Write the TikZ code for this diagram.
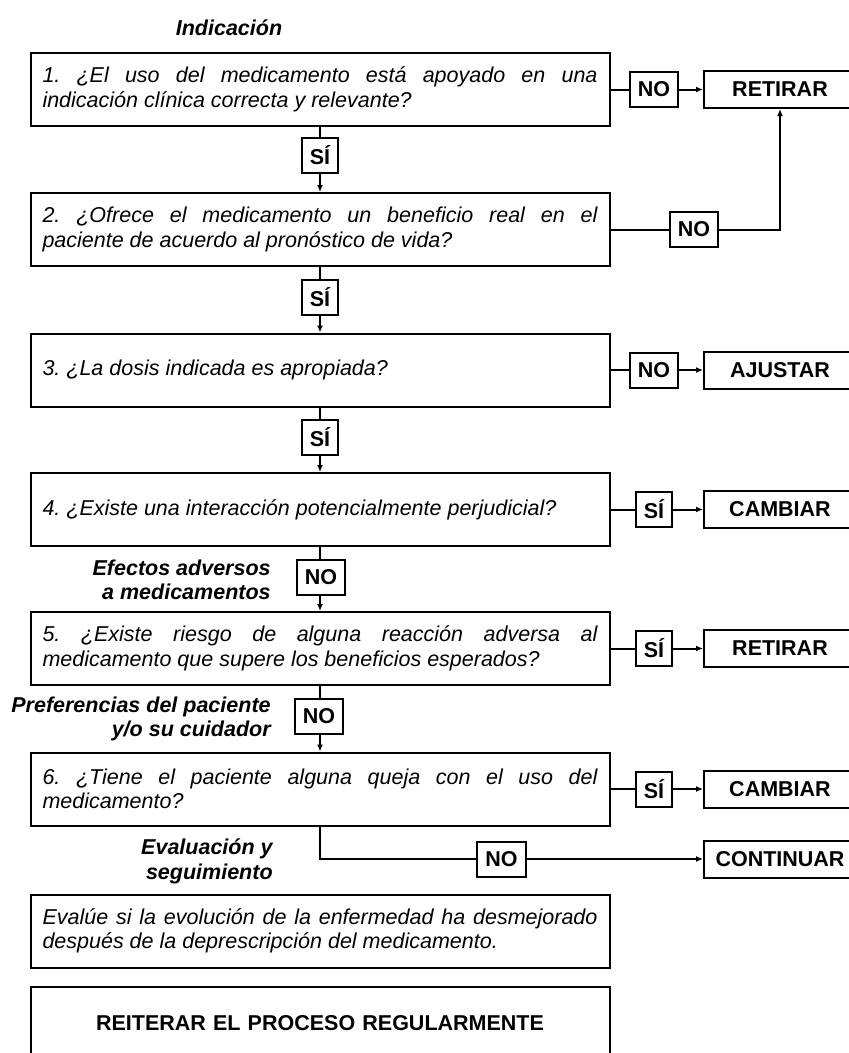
\documentclass[tikz,border=0pt]{standalone}
\usepackage{fontspec}
\setmainfont{Liberation Sans}
\usetikzlibrary{positioning,arrows.meta}
\hyphenpenalty=10000
\exhyphenpenalty=10000
\frenchspacing
\newcommand{\tam}{\fontsize{21.5}{24.5}\selectfont}
\newcommand{\sinencoger}{\spaceskip=\fontdimen2\font plus 3em\relax}

\begin{document}
\begin{tikzpicture}[x=1pt,y=-1pt,line width=2pt,>={Latex[length=7pt,width=6pt]},
    pregunta/.style={draw,text width=555pt,inner xsep=12pt,minimum height=73pt,align=justify,font=\tam\itshape\sinencoger},
    resp/.style={draw,inner xsep=8pt,minimum height=35pt,font=\tam\bfseries},
    accion/.style={draw,minimum width=152pt,minimum height=37pt,font=\tam\bfseries},
    etiqueta/.style={align=right,anchor=east,font=\tam\bfseries\itshape}]
    \useasboundingbox (0,0) rectangle (849,1053);
        \node[font=\tam\bfseries\itshape] (ind) at (229,28) {Indicación};
        \node[pregunta] (A) at (320,89.5) {1. ¿El uso del medicamento está apoyado en una indicación clínica correcta y relevante?};
        \node[pregunta] (B) at (320,229.5) {2. ¿Ofrece el medicamento un beneficio real en el paciente de acuerdo al pronóstico de vida?};
        \node[pregunta] (C) at (320,370) {3. ¿La dosis indicada es apropiada?};
        \node[pregunta] (D) at (320,509.5) {4. ¿Existe una interacción potencialmente perjudicial?};
        \node[pregunta] (E) at (320,648.5) {5. ¿Existe riesgo de alguna reacción adversa al medicamento que supere los beneficios esperados?};
        \node[pregunta] (F) at (320,789) {6. ¿Tiene el paciente alguna queja con el uso del medicamento?};
        \node[pregunta] (G) at (320,931) {Evalúe si la evolución de la enfermedad ha desmejorado después de la deprescripción del medicamento.};
        \node[pregunta,align=center,font=\tam\bfseries] (H) at (320,1023.5) {REITERAR EL PROCESO REGULARMENTE};

        \node[resp] (sA) at (320,155) {SÍ};
        \node[resp] (sB) at (320,297) {SÍ};
        \node[resp] (sC) at (320,437) {SÍ};
        \node[resp] (nD) at (321,577) {NO};
        \node[resp] (nE) at (319,716.5) {NO};
        \node[etiqueta] (efe) at (275,580) {Efectos adversos\\a medicamentos};
        \node[etiqueta] (pref) at (275,719) {Preferencias del paciente\\y/o su cuidador};
        \node[etiqueta] (eva) at (277,861.5) {Evaluación y\\seguimiento};

        \node[resp] (nA) at (654,89.5) {NO};
        \node[resp] (nB) at (694,229.5) {NO};
        \node[resp] (nC) at (654,370) {NO};
        \node[resp] (sD) at (654,509.5) {SÍ};
        \node[resp] (sE) at (654,648.5) {SÍ};
        \node[resp] (sF) at (654,789) {SÍ};
        \node[resp] (nF) at (501.5,859) {NO};

        \node[accion] (rA) at (780,89.5) {RETIRAR};
        \node[accion] (rC) at (780,370) {AJUSTAR};
        \node[accion] (rD) at (780,509.5) {CAMBIAR};
        \node[accion] (rE) at (780,648.5) {RETIRAR};
        \node[accion] (rF) at (780,789) {CAMBIAR};
        \node[accion] (rG) at (780,859) {CONTINUAR};

        \draw (A) to (sA);
        \draw[->] (sA) to (B);
        \draw (B) to (sB);
        \draw[->] (sB) to (C);
        \draw (C) to (sC);
        \draw[->] (sC) to (D);
        \draw (D) to (D.south |- nD.north);
        \draw[->] (D.south |- nD.south) to (E);
        \draw (E) to (E.south |- nE.north);
        \draw[->] (E.south |- nE.south) to (F);

        \draw (A) to (nA);
        \draw[->] (nA) to (rA);
        \draw (B) to (nB);
        \draw[->] (nB) -| (rA);
        \draw (C) to (nC);
        \draw[->] (nC) to (rC);
        \draw (D) to (sD);
        \draw[->] (sD) to (rD);
        \draw (E) to (sE);
        \draw[->] (sE) to (rE);
        \draw (F) to (sF);
        \draw[->] (sF) to (rF);
        \draw (F) |- (nF);
        \draw[->] (nF) to (rG);
    \end{tikzpicture}
\end{document}
